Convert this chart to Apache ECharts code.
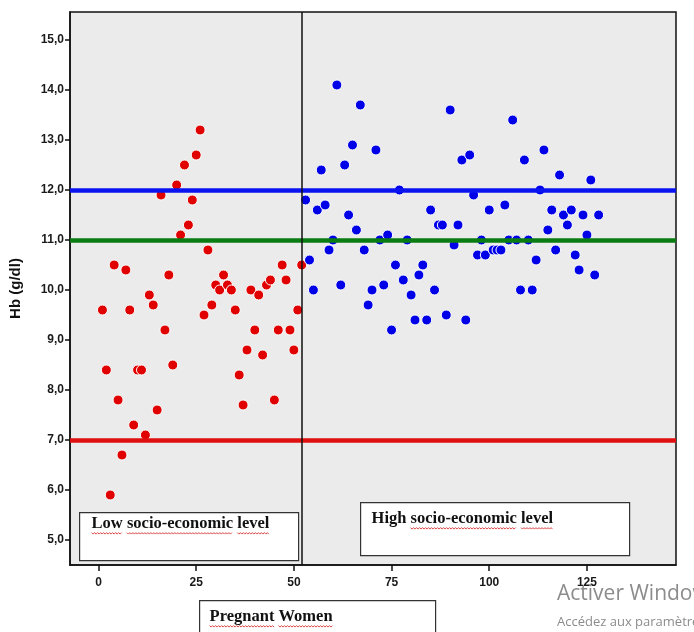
<!DOCTYPE html>
<html>
<head>
<meta charset="utf-8">
<title>Hb - Pregnant Women</title>
<style>
  html, body { margin: 0; height: 100%; background: #fff; }
  #main { width: 694px; height: 632px; }
</style>
</head>
<body>
<div id="main"></div>
<script src="https://cdn.jsdelivr.net/npm/echarts@6/dist/echarts.min.js"></script>
<script>
// Hb (g/dl) per pregnant woman, in the order of the x axis
var lowHb = [9.6, 8.4, 5.9, 10.5, 7.8, 6.7, 10.4, 9.6, 7.3, 8.4,
  8.4, 7.1, 9.9, 9.7, 7.6, 11.9, 9.2, 10.3, 8.5, 12.1,
  11.1, 12.5, 11.3, 11.8, 12.7, 13.2, 9.5, 10.8, 9.7, 10.1,
  10.0, 10.3, 10.1, 10.0, 9.6, 8.3, 7.7, 8.8, 10.0, 9.2,
  9.9, 8.7, 10.1, 10.2, 7.8, 9.2, 10.5, 10.2, 9.2, 8.8,
  9.6, 10.5];
var highHb = [11.8, 10.6, 10.0, 11.6, 12.4, 11.7, 10.8, 11.0, 14.1, 10.1,
  12.5, 11.5, 12.9, 11.2, 13.7, 10.8, 9.7, 10.0, 12.8, 11.0,
  10.1, 11.1, 9.2, 10.5, 12.0, 10.2, 11.0, 9.9, 9.4, 10.3,
  10.5, 9.4, 11.6, 10.0, 11.3, 11.3, 9.5, 13.6, 10.9, 11.3,
  12.6, 9.4, 12.7, 11.9, 10.7, 11.0, 10.7, 11.6, 10.8, 10.8,
  10.8, 11.7, 11.0, 13.4, 11.0, 10.0, 12.6, 11.0, 10.0, 10.6,
  12.0, 12.8, 11.2, 11.6, 10.8, 12.3, 11.5, 11.3, 11.6, 10.7,
  10.4, 11.5, 11.1, 12.2, 10.3, 11.5];
var firstLowId = 1;
var firstHighId = 53;
var xTicks = [0, 25, 50, 75, 100, 125];
var yTicks = [5, 6, 7, 8, 9, 10, 11, 12, 13, 14, 15];
var refLines = [
  { value: 12, color: '#0a14f0' },
  { value: 11, color: '#0a7d12' },
  { value: 7, color: '#e00f0f' }
];
var groupSplit = 52;

function toPoints(values, startId) {
  var pts = [];
  for (var i = 0; i < values.length; i++) {
    pts.push([startId + i, values[i]]);
  }
  return pts;
}

var labelFont = 'Liberation Sans, Arial, sans-serif';
var serifBold = 'bold 16.5px "Liberation Serif", "Times New Roman", serif';

// red spell-check squiggles under some words of a text box
var ctx = document.createElement('canvas').getContext('2d');
ctx.font = serifBold;
function squiggles(text, words, x, y) {
  var out = [];
  words.forEach(function (w) {
    var idx = text.indexOf(w);
    var x0 = x + ctx.measureText(text.slice(0, idx)).width;
    var x1 = x0 + ctx.measureText(w).width;
    var pts = [];
    for (var px = x0, k = 0; px <= x1; px += 1.5, k++) {
      pts.push([px, y + (k % 2 ? 1.5 : 0)]);
    }
    out.push({ type: 'polyline', shape: { points: pts }, style: { stroke: '#d21a1a', lineWidth: 0.8, fill: null } });
  });
  return out;
}

function textBox(left, top, w, h, tx, ty, text, words) {
  return {
    type: 'group', left: left, top: top, z: 10,
    children: [
      { type: 'rect', shape: { x: 0, y: 0, width: w, height: h }, style: { fill: '#fff', stroke: '#333', lineWidth: 1.2 } },
      { type: 'text', x: tx, y: ty, style: { text: text, font: serifBold, fill: '#111' } }
    ].concat(squiggles(text, words, tx, ty + 17))
  };
}

var myChart = echarts.init(document.getElementById('main'));

var option = {
  animation: false,
  grid: {
    left: 70,
    top: 12,
    right: 18,
    bottom: 67,
    show: true,
    backgroundColor: '#ebebeb',
    borderColor: '#111',
    borderWidth: 1.5
  },
  xAxis: {
    type: 'value',
    min: -7.3,
    max: 147.8,
    splitLine: { show: false },
    axisLine: { show: true, onZero: false, lineStyle: { color: '#111', width: 1.5 } },
    axisTick: { show: true, customValues: xTicks, length: 6, lineStyle: { color: '#111', width: 1.5 } },
    axisLabel: {
      customValues: xTicks,
      margin: 12,
      color: '#1a1a1a',
      fontWeight: 'bold',
      fontSize: 12,
      fontFamily: labelFont
    }
  },
  yAxis: {
    type: 'value',
    min: 4.5,
    max: 15.56,
    name: 'Hb (g/dl)',
    nameLocation: 'middle',
    nameGap: 47,
    nameTextStyle: { color: '#111', fontWeight: 'bold', fontSize: 15, fontFamily: labelFont },
    splitLine: { show: false },
    axisLine: { show: true, onZero: false, lineStyle: { color: '#111', width: 1.5 } },
    axisTick: { show: true, customValues: yTicks, length: 5, lineStyle: { color: '#111', width: 1.5 } },
    axisLabel: {
      customValues: yTicks,
      margin: 6,
      color: '#1a1a1a',
      fontWeight: 'bold',
      fontSize: 12,
      fontFamily: labelFont,
      formatter: function (v) { return v.toFixed(1).replace('.', ','); }
    }
  },
  series: [
    {
      name: 'lines',
      type: 'scatter',
      data: [],
      z: 1,
      markLine: {
        silent: true,
        symbol: 'none',
        label: { show: false },
        data: refLines.map(function (r) {
          return { yAxis: r.value, lineStyle: { color: r.color, width: 4.5, type: 'solid' } };
        }).concat([{ xAxis: groupSplit, lineStyle: { color: '#111', width: 1.5, type: 'solid' } }])
      }
    },
    {
      name: 'Low socio-economic level',
      type: 'scatter',
      z: 3,
      symbolSize: 10,
      itemStyle: { color: '#e00000', borderColor: '#fff', borderWidth: 1, opacity: 1 },
      data: toPoints(lowHb, firstLowId)
    },
    {
      name: 'High socio-economic level',
      type: 'scatter',
      z: 3,
      symbolSize: 10,
      itemStyle: { color: '#0000e8', borderColor: '#fff', borderWidth: 1, opacity: 1 },
      data: toPoints(highHb, firstHighId)
    }
  ],
  graphic: [
    textBox(79, 512, 219, 48, 12, 3, 'Low socio-economic level', ['Low', 'socio-economic', 'level']),
    textBox(360, 502, 269, 53, 11, 8, 'High socio-economic level', ['socio-economic', 'level']),
    textBox(199, 600, 236, 40, 10, 8, 'Pregnant Women', ['Pregnant', 'Women']),
    { type: 'text', left: 557, top: 584, z: 10, style: { text: 'Activer Windows', font: '21px "Open Sans", sans-serif', fill: '#8c8c8c' } },
    { type: 'text', left: 557, top: 616, z: 10, style: { text: 'Accédez aux paramètres', font: '13px "Open Sans", sans-serif', fill: '#8c8c8c' } }
  ]
};

myChart.setOption(option);
</script>
</body>
</html>
